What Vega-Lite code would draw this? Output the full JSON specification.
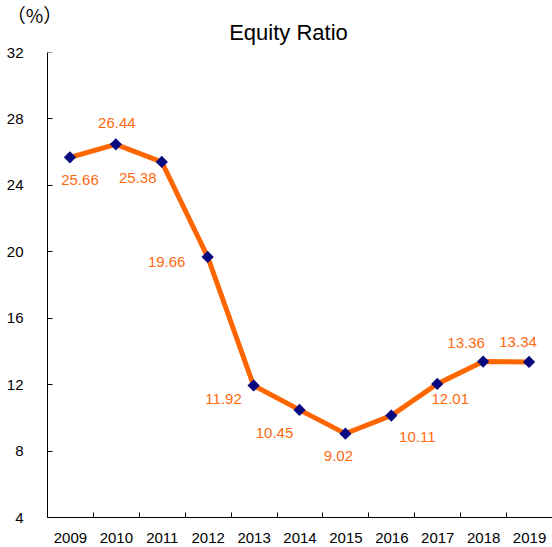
{
  "$schema": "https://vega.github.io/schema/vega-lite/v6.json",
  "autosize": "none",
  "padding": {"left": 47, "top": 52, "right": 0, "bottom": 30},
  "width": 505,
  "height": 465,
  "background": "white",
  "config": {"view": {"stroke": null}, "font": "Liberation Sans"},
  "title": {"text": "Equity Ratio", "fontSize": 22, "fontWeight": "normal", "color": "#000000", "font": "Liberation Sans", "anchor": "middle", "dx": -11, "offset": -38},
  "data": {"values": [
    {"year": "2009", "ratio": 25.66},
    {"year": "2010", "ratio": 26.44},
    {"year": "2011", "ratio": 25.38},
    {"year": "2012", "ratio": 19.66},
    {"year": "2013", "ratio": 11.92},
    {"year": "2014", "ratio": 10.45},
    {"year": "2015", "ratio": 9.02},
    {"year": "2016", "ratio": 10.11},
    {"year": "2017", "ratio": 12.01},
    {"year": "2018", "ratio": 13.36},
    {"year": "2019", "ratio": 13.34}
  ]},
  "encoding": {
    "x": {"field": "year", "type": "ordinal", "bandPosition": 0.5,
      "scale": {"type": "band", "paddingInner": 0, "paddingOuter": 0},
      "axis": {"title": null, "labelAngle": 0, "labelFontSize": 15, "labelColor": "#000000", "domainColor": "#000000", "tickColor": "#000000", "tickBand": "extent", "tickSize": -5, "labelPadding": 18, "labelFont": "Liberation Sans"}},
    "y": {"field": "ratio", "type": "quantitative",
      "scale": {"domain": [4, 32], "nice": false, "zero": false},
      "axis": {"values": [4, 8, 12, 16, 20, 24, 28, 32], "grid": false, "labelFontSize": 15, "labelColor": "#000000", "domainColor": "#000000",
        "tickColor": {"condition": {"test": "datum.value == 32", "value": "#999999"}, "value": "#000000"},
        "tickSize": -5, "labelPadding": 29, "labelFont": "Liberation Sans",
        "title": "（%）", "titleAngle": 0, "titleFont": "Noto Sans CJK SC", "titleFontSize": 19, "titleFontWeight": "normal", "titleColor": "#000000", "titleAlign": "center", "titleBaseline": "middle", "titleX": -13, "titleY": -36}}
  },
  "layer": [
    {"mark": {"type": "line", "color": "#FF6600", "strokeWidth": 5}},
    {"mark": {"type": "point", "shape": "diamond", "filled": true, "opacity": 1, "color": "#0A0A80", "size": 150}},
    {"transform": [{"filter": "datum.year == '2009'"}], "mark": {"type": "text", "fontSize": 15, "color": "#FF6A10", "dx": 10, "dy": 23}, "encoding": {"text": {"field": "ratio", "format": ".2f"}}},
    {"transform": [{"filter": "datum.year == '2010'"}], "mark": {"type": "text", "fontSize": 15, "color": "#FF6A10", "dx": 1, "dy": -21}, "encoding": {"text": {"field": "ratio", "format": ".2f"}}},
    {"transform": [{"filter": "datum.year == '2011'"}], "mark": {"type": "text", "fontSize": 15, "color": "#FF6A10", "dx": -24, "dy": 16}, "encoding": {"text": {"field": "ratio", "format": ".2f"}}},
    {"transform": [{"filter": "datum.year == '2012'"}], "mark": {"type": "text", "fontSize": 15, "color": "#FF6A10", "dx": -41, "dy": 5}, "encoding": {"text": {"field": "ratio", "format": ".2f"}}},
    {"transform": [{"filter": "datum.year == '2013'"}], "mark": {"type": "text", "fontSize": 15, "color": "#FF6A10", "dx": -30, "dy": 14}, "encoding": {"text": {"field": "ratio", "format": ".2f"}}},
    {"transform": [{"filter": "datum.year == '2014'"}], "mark": {"type": "text", "fontSize": 15, "color": "#FF6A10", "dx": -25, "dy": 23}, "encoding": {"text": {"field": "ratio", "format": ".2f"}}},
    {"transform": [{"filter": "datum.year == '2015'"}], "mark": {"type": "text", "fontSize": 15, "color": "#FF6A10", "dx": -7, "dy": 22}, "encoding": {"text": {"field": "ratio", "format": ".2f"}}},
    {"transform": [{"filter": "datum.year == '2016'"}], "mark": {"type": "text", "fontSize": 15, "color": "#FF6A10", "dx": 26, "dy": 21}, "encoding": {"text": {"field": "ratio", "format": ".2f"}}},
    {"transform": [{"filter": "datum.year == '2017'"}], "mark": {"type": "text", "fontSize": 15, "color": "#FF6A10", "dx": 13, "dy": 15}, "encoding": {"text": {"field": "ratio", "format": ".2f"}}},
    {"transform": [{"filter": "datum.year == '2018'"}], "mark": {"type": "text", "fontSize": 15, "color": "#FF6A10", "dx": -17, "dy": -19}, "encoding": {"text": {"field": "ratio", "format": ".2f"}}},
    {"transform": [{"filter": "datum.year == '2019'"}], "mark": {"type": "text", "fontSize": 15, "color": "#FF6A10", "dx": -11, "dy": -20}, "encoding": {"text": {"field": "ratio", "format": ".2f"}}}
  ]
}
